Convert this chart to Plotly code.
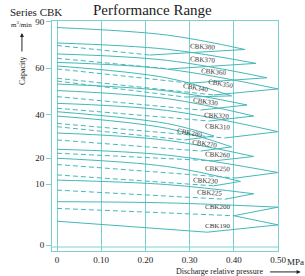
import numpy as np
import plotly.graph_objects as go

# Capacity axis of the chart is hand-drawn (non-linear): tick values and their axis positions
cap_ticks = [0, 10, 20, 40, 60, 90]
cap_axis_pos = [0, 61, 87, 130.5, 177, 223.3]
pressure_ticks = [0, 0.1, 0.2, 0.3, 0.4, 0.5]
pressure_ticktext = ["0", "0.10", "0.20", "0.30", "0.40", "0.50"]

models = ["CBK380", "CBK370", "CBK360", "CBK350", "CBK340", "CBK330", "CBK320", "CBK310",
          "CBK280", "CBK270", "CBK260", "CBK250", "CBK230", "CBK225", "CBK200", "CBK190"]
# upper (max-capacity) curve of each range: start, value at 0.25 MPa, tip at max pressure
upper_start_p = [0, 0, 0, 0, 0, 0, 0, 0, 0, 0, 0, 0, 0, 0, 0, 0.40]
upper_start_q = [86.2, 76.2, 69.1, 63.6, 61.3, 53.1, 50.3, 44.8, 41.2, 39.3, 31.5, 24.0, 19.9, 11.5, 7.1, 4.8]
upper_mid_q = [81.3, 72.1, 64.9, 59.5, 55.7, 50.1, 46.8, 41.7, 35.8, 33.6, 28.1, 21.3, 16.7, 9.9, 6.9, None]
tip_p = [0.425, 0.45, 0.475, 0.5, 0.395, 0.43, 0.445, 0.5, 0.355, 0.395, 0.445, 0.5, 0.415, 0.445, 0.5, 0.5]
tip_q = [72.0, 63.0, 55.8, 51.0, 48.0, 44.1, 39.3, 32.1, 30.1, 25.1, 20.7, 14.4, 11.0, 8.4, 6.2, 3.3]
# lower curve: start at 0 MPa, knee, then back up to the tip
lower_start_q = [74.6, 66.3, 59.6, 55.6, 54.4, 47.7, 42.7, 35.9, 34.4, 28.3, 22.2, 17.5, 13.5, 9.0, 6.0, 3.9]
knee_p = [0.21, 0.255, 0.30, 0.355, 0.29, 0.325, 0.345, 0.38, 0.29, 0.325, 0.355, 0.405, 0.355, 0.38, 0.40, 0.34]
knee_q = [68.4, 59.6, 53.5, 48.4, 47.5, 41.9, 37.0, 29.2, 28.3, 23.2, 18.9, 12.3, 9.7, 7.5, 4.8, 2.1]
lower_dashed = [True] * 15 + [False]
# model labels
label_p = [0.330, 0.330, 0.353, 0.371, 0.314, 0.335, 0.360, 0.364, 0.299, 0.333, 0.362, 0.362, 0.335, 0.346, 0.362, 0.364]
label_q = [73.6, 64.9, 58.1, 53.0, 51.4, 45.5, 39.3, 34.3, 31.5, 26.3, 21.2, 15.8, 11.2, 8.5, 6.2, 3.1]
label_angle = [3, 4, 5, 10, 10, 8, 3, 3, 10, 8, 3, 2, 3, 3, 0, 0]

LINE = "#45B8B8"
GRID = "#7ECFCF"
SERIF = "Liberation Serif"
TXT = "#222222"


def cap_to_axis(q):
    return np.interp(q, cap_ticks, cap_axis_pos)


fig = go.Figure()
for i, m in enumerate(models):
    if upper_mid_q[i] is None:
        ux = [upper_start_p[i], tip_p[i]]
        uq = [upper_start_q[i], tip_q[i]]
    else:
        ux = [upper_start_p[i], 0.25, tip_p[i]]
        uq = [upper_start_q[i], upper_mid_q[i], tip_q[i]]
    fig.add_trace(go.Scatter(x=ux, y=cap_to_axis(uq), mode="lines",
                             line=dict(color=LINE, width=1, shape="spline"),
                             hoverinfo="skip", showlegend=False))
    fig.add_trace(go.Scatter(x=[0, knee_p[i]], y=cap_to_axis([lower_start_q[i], knee_q[i]]),
                             mode="lines",
                             line=dict(color=LINE, width=1,
                                       dash="5px,3px" if lower_dashed[i] else "solid"),
                             hoverinfo="skip", showlegend=False))
    fig.add_trace(go.Scatter(x=[knee_p[i], tip_p[i]], y=cap_to_axis([knee_q[i], tip_q[i]]),
                             mode="lines", line=dict(color=LINE, width=1),
                             hoverinfo="skip", showlegend=False))
    fig.add_annotation(x=label_p[i], y=float(cap_to_axis(label_q[i])), text=m, showarrow=False,
                       textangle=label_angle[i], xanchor="center", yanchor="middle",
                       font=dict(family=SERIF, size=7, color="#333333"))

x0 = -5 / 442
fig.update_layout(
    width=305, height=276,
    margin=dict(l=52, r=27, t=21, b=25, autoexpand=False),
    paper_bgcolor="white", plot_bgcolor="white",
    showlegend=False,
)
fig.update_xaxes(range=[x0, 0.5], tickvals=pressure_ticks, ticktext=pressure_ticktext,
                 showgrid=True, gridcolor=GRID, gridwidth=1, zeroline=False, automargin=False,
                 showline=True, linecolor=GRID, linewidth=1, mirror=True, ticks="",
                 tickfont=dict(family=SERIF, size=9, color=TXT))
fig.update_yaxes(range=[-6, 224], tickvals=cap_to_axis(cap_ticks), ticktext=[str(v) for v in cap_ticks],
                 showgrid=False, zeroline=False, showline=True, linecolor=GRID, linewidth=1,
                 mirror=True, ticks="outside", ticklen=5, tickcolor=GRID, automargin=False,
                 tickfont=dict(family=SERIF, size=9, color=TXT))

# second bottom frame line
fig.add_shape(type="line", xref="x", yref="y", x0=x0, x1=0.5, y0=-2, y1=-2,
              line=dict(color=GRID, width=1))


def text(x, y, s, size, angle=0, xanchor="center", xref="paper", xshift=0):
    fig.add_annotation(xref=xref, yref="paper", x=x, y=y, text=s, showarrow=False,
                       textangle=angle, xanchor=xanchor, yanchor="middle", xshift=xshift,
                       font=dict(family=SERIF, size=size, color=TXT))


text(0.445, 1.048, "Performance Range", 15)
text(-0.069, 1.039, "Series CBK", 11)
text(-0.135, 0.983, "m<sup>3</sup>/min", 7)
text(-0.128, 0.783, "Capacity", 8, angle=-90)
text(0.5, -0.048, "MPa", 9, xanchor="left", xref="x", xshift=7)
text(0.74, -0.088, "Discharge relative pressure", 8)

fig.add_annotation(xref="paper", yref="paper", x=-0.133, y=0.948, ax=0, ay=20, text="",
                   showarrow=True, arrowhead=2, arrowsize=0.8, arrowwidth=1, arrowcolor=TXT)
fig.add_annotation(xref="paper", yref="paper", x=1.10, y=-0.091, ax=-32, ay=0, text="",
                   showarrow=True, arrowhead=2, arrowsize=0.8, arrowwidth=1, arrowcolor=TXT)

fig.write_html("out.html", config={"displayModeBar": False},
               post_script="document.body.style.margin='0';document.body.style.overflow='hidden';")
